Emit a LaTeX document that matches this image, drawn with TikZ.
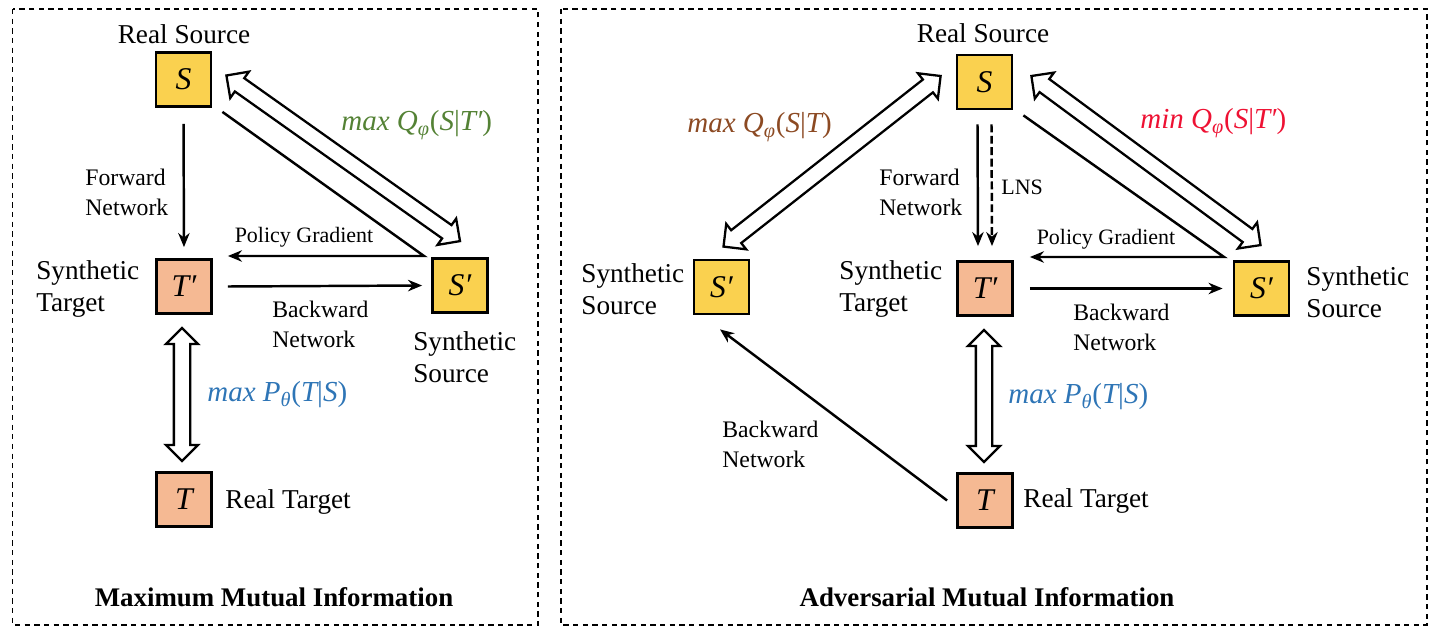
\documentclass[tikz,border=0pt]{standalone}
\usepackage{fontspec}
\setmainfont{Liberation Serif}
\usepackage{tikz}
\usetikzlibrary{positioning}
\usetikzlibrary{arrows.meta,shapes}
\usetikzlibrary{shapes.arrows}
\usetikzlibrary{calc}
\definecolor{srcyellow}{HTML}{FAD14F}
\definecolor{tgtpeach}{HTML}{F5B993}
\definecolor{qgreen}{HTML}{548235}
\definecolor{pblue}{HTML}{2E75B6}
\definecolor{qbrown}{HTML}{8C4A23}
\definecolor{qred}{HTML}{EE1133}
\tikzstyle{srcbox}=[rectangle,draw=black,line width=1.6pt,fill=srcyellow,minimum width=1.1cm,minimum height=1.08cm,inner sep=0pt,font=\fontsize{18}{20}\selectfont\itshape]
\tikzstyle{tgtbox}=[srcbox,fill=tgtpeach]
\tikzstyle{edge} = [draw,line width=1.4pt,-{Stealth[length=8pt,width=6.5pt]}]
\tikzstyle{dashededge} = [edge,dash pattern=on 4.5pt off 2pt]
\tikzstyle{hollow}=[double arrow,draw=black,line width=1.3pt,fill=white,inner xsep=0pt,inner ysep=0.14cm,double arrow head extend=0.16cm,double arrow tip angle=90]
\tikzstyle{panel}=[draw,line width=0.7pt,dash pattern=on 3pt off 2.5pt]
\tikzstyle{bigtext}=[font=\fontsize{15.5}{18}\selectfont,inner sep=0pt,align=left]
\tikzstyle{midtext}=[font=\fontsize{13.5}{17}\selectfont,inner sep=0pt,align=left]
\tikzstyle{smalltext}=[font=\fontsize{12.5}{14}\selectfont,inner sep=0pt]
\tikzstyle{formula}=[font=\fontsize{16.5}{19}\selectfont\itshape,inner sep=0pt]
\tikzstyle{paneltitle}=[font=\fontsize{15.3}{18}\selectfont\bfseries,inner sep=0pt]
\newcommand{\qterm}[2]{#1 Q\textsubscript{φ}{\upshape(}S{\upshape|}#2{\upshape)}}
\newcommand{\pterm}{max P\textsubscript{θ}{\upshape(}T{\upshape|}S{\upshape)}}
\newcommand{\hollowarrow}[2]{%
  \path let \p1=($(#2)-(#1)$), \n1={atan2(\y1,\x1)}, \n2={veclen(\x1,\y1)} in
    node[hollow,rotate=\n1,minimum height=\n2] at ($(#1)!0.5!(#2)$) {};%
}

\begin{document}
\begin{tikzpicture}[x=0.02cm,y=-0.02cm]
    \useasboundingbox (0,0) rectangle (1430,638);

    % the two dashed panels
    \draw[panel] (12.5,9) rectangle (538,625);
    \draw[panel] (561,9) rectangle (1427,625);

    % First we draw the boxes
    \foreach \pos/\name/\lbl in {{(183.5,79.5)/SL/S}, {(460,285.5)/SpL/S′}, {(984.5,82)/SR/S}, {(721.5,287)/SpA/S′}, {(1261.5,288.5)/SpB/S′}}
        \node[srcbox] (\name) at \pos {\lbl};

    \foreach \pos/\name/\lbl in {{(184,286.5)/TpL/T′}, {(184,499.5)/TL/T}, {(985,288.5)/TpR/T′}, {(985,500.5)/TR/T}}
        \node[tgtbox] (\name) at \pos {\lbl};

    % texts of the left panel
    \node[bigtext] (rsL) at (184,34) {Real Source};
    \node[bigtext,anchor=west] (stL) at (36,289) {Synthetic\\Target};
    \node[bigtext,anchor=west] (ssL) at (413,357) {Synthetic\\Source};
    \node[bigtext,anchor=west] (rtL) at (225,502) {Real Target};
    \node[midtext,anchor=west] (fwL) at (85,192) {Forward\\Network};
    \node[midtext,anchor=west] (bwL) at (272,324) {Backward\\Network};
    \node[smalltext] (pgtL) at (304,237) {Policy Gradient};
    \node[formula,anchor=west,text=qgreen] (qL) at (341,125) {\qterm{max}{T′}};
    \node[formula,anchor=west,text=pblue] (pL) at (207,395) {\pterm};
    \node[paneltitle] (titleL) at (274,597) {Maximum Mutual Information};

    % texts of the right panel
    \node[bigtext] (rsR) at (983,33) {Real Source};
    \node[bigtext,anchor=west] (ssA) at (581,289) {Synthetic\\Source};
    \node[bigtext,anchor=west] (stR) at (839,289) {Synthetic\\Target};
    \node[bigtext,anchor=west] (ssB) at (1306,292) {Synthetic\\Source};
    \node[bigtext,anchor=west] (rtR) at (1023,501) {Real Target};
    \node[midtext,anchor=west] (fwR) at (879,192) {Forward\\Network};
    \node[smalltext,anchor=west] (lns) at (1001,187) {LNS};
    \node[midtext,anchor=west] (bwR) at (1073,327) {Backward\\Network};
    \node[midtext,anchor=west] (bwA) at (722,444) {Backward\\Network};
    \node[smalltext] (pgtR) at (1106,239) {Policy Gradient};
    \node[formula,anchor=west,text=qbrown] (qA) at (687,127) {\qterm{max}{T}};
    \node[formula,anchor=west,text=qred] (qB) at (1140,123) {\qterm{min}{T′}};
    \node[formula,anchor=west,text=pblue] (pR) at (1008,397) {\pterm};
    \node[paneltitle] (titleR) at (987,597) {Adversarial Mutual Information};

    % Connect boxes with edges
    \coordinate (pgL) at (424,256);
    \coordinate (pgR) at (1224,257);
    \path[edge,shorten <=0.32cm,shorten >=0.22cm] (SL.south) -- (TpL.north);
    \path[edge] ([shift={(10,4)}]SL.south east) -- (pgL) -- ($(TpL.east |- pgL)+(15,0)$);
    \path[edge] ([shift={(15,0)}]TpL.east) -- ([shift={(-9,0)}]SpL.west);

    \path[edge] ([shift={(-7,14)}]SR.south) -- ([shift={(-7,-14)}]TpR.north);
    \path[dashededge] ([shift={(7,14)}]SR.south) -- ([shift={(7,-14)}]TpR.north);
    \path[edge] ([shift={(10,5)}]SR.south east) -- (pgR) -- ($(TpR.east |- pgR)+(16,0)$);
    \path[edge] ([shift={(16,0)}]TpR.east) -- ([shift={(-10,0)}]SpB.west);
    \path[edge] ([shift={(-9,0)}]TR.west) -- ([shift={(-1.5,14)}]SpA.south);

    % hollow double arrows
    \coordinate (hL1) at ([shift={(14,-4)}]SL.east);
    \coordinate (hL2) at ([shift={(0,-16)}]SpL.north);
    \coordinate (vL1) at ([shift={(-2,13)}]TpL.south);
    \coordinate (vL2) at ([shift={(-2,-10)}]TL.north);
    \coordinate (hR1) at ([shift={(18,-6)}]SR.east);
    \coordinate (hR2) at ([shift={(-1,-15)}]SpB.north);
    \coordinate (hA1) at ([shift={(-15,-6)}]SR.west);
    \coordinate (hA2) at ([shift={(2,-12)}]SpA.north);
    \coordinate (vR1) at ([shift={(-1,13)}]TpR.south);
    \coordinate (vR2) at ([shift={(-1,-10)}]TR.north);
    \foreach \source/\dest in {hL1/hL2, vL1/vL2, hR1/hR2, hA1/hA2, vR1/vR2}
        {\hollowarrow{\source}{\dest}}
\end{tikzpicture}
\end{document}
